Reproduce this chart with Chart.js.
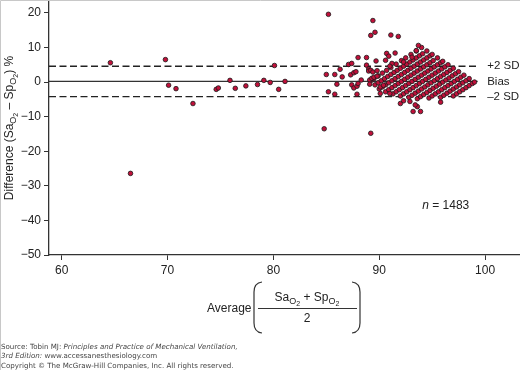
<!DOCTYPE html>
<html>
<head>
<meta charset="utf-8">
<script src="https://cdn.jsdelivr.net/npm/chart.js@4.4.1/dist/chart.umd.min.js"></script>
<style>
  body { margin: 0; background: #fff; }
  #wrap { position: relative; width: 520px; height: 370px; overflow: hidden; }
  #src { position: absolute; left: 1px; top: 342px; font-family: "DejaVu Sans"; font-size: 7.1px; color: #444; line-height: 9px; white-space: nowrap; }
  #src .copy { margin-top: 1px; }
</style>
</head>
<body>
<div id="wrap">
  <canvas id="myChart" width="520" height="370"></canvas>
  <div id="src">Source: Tobin MJ: <i>Principles and Practice of Mechanical Ventilation,</i><br><i>3rd Edition:</i> www.accessanesthesiology.com<div class="copy">Copyright © The McGraw-Hill Companies, Inc. All rights reserved.</div></div>
</div>
<script>
// Bland-Altman points: [average, difference]
var sparsePoints = [
  [64.6, 5.6], [66.5, -26.4], [69.8, 6.5], [70.1, -0.9], [70.8, -1.9], [72.4, -6.2],
  [74.6, -2.1], [74.8, -1.7], [75.9, 0.5], [76.4, -1.8], [77.4, -1.1], [78.5, -0.7],
  [79.1, 0.5], [79.7, -0.1], [80.1, 4.8], [80.5, -2.1], [81.1, 0.2],
  [84.8, -13.5], [85.0, 2.2], [85.2, 19.6], [85.2, -2.8], [85.8, -3.5], [85.8, 2.2],
  [86.0, -0.6], [86.3, 3.7], [86.5, 1.5], [87.1, 5.1], [87.4, 5.4], [87.3, 2.1],
  [87.6, 2.7], [87.8, 3.0], [87.4, -0.8], [87.6, -1.7], [87.9, -1.2], [87.9, -3.5],
  [88.0, -0.4], [88.3, 0.6], [88.0, 7.1], [88.8, 7.1], [88.8, 4.9], [89.0, 3.8],
  [89.0, 3.2], [89.2, 3.4], [89.4, 2.9], [89.8, 3.3], [89.1, 0.6], [89.3, 1.1],
  [89.5, 1.4], [89.8, 1.7], [89.1, -0.6], [89.7, 6.1], [89.2, -14.8], [89.4, 17.8],
  [89.2, 13.5], [89.6, 14.4], [91.1, 13.6], [91.8, 13.2], [90.1, -1.4], [90.4, -0.9],
  [90.1, -3.3], [91.0, -3.3], [90.6, 6.3], [90.7, 8.3], [90.9, 7.5], [91.5, 8.4],
  [91.2, 5.4], [91.0, 4.6], [92.3, 5.8], [92.0, -6.2], [92.3, -5.4], [92.9, -5.6],
  [93.2, -8.5], [93.6, -7.1], [93.9, -8.5], [93.4, -6.6], [95.8, -5.8], [93.7, 10.6],
  [93.5, 9.1], [93.1, 7.2]
];

// the dense diagonal bands on the right, one row per band
var densePoints = [
  [89.2, 0.4], [89.5, 1.0], [89.9, 1.8], [90.3, 2.6], [90.7, 3.4], [91.1, 4.2], [91.6, 5.2], [92.1, 6.2], [92.5, 7.0], [93.0, 8.0], [93.5, 9.0], [94.0, 10.0],
  [89.6, -0.8], [89.9, -0.2], [90.2, 0.4], [90.5, 1.0], [90.8, 1.6], [91.1, 2.2], [91.4, 2.8], [91.7, 3.4], [92.0, 4.0], [92.3, 4.6], [92.6, 5.2], [92.9, 5.8], [93.2, 6.4], [93.5, 7.0], [93.8, 7.6], [94.1, 8.2], [94.5, 9.0],
  [90.0, -2.0], [90.3, -1.4], [90.6, -0.8], [90.9, -0.2], [91.2, 0.4], [91.5, 1.0], [91.8, 1.6], [92.1, 2.2], [92.4, 2.8], [92.7, 3.4], [93.0, 4.0], [93.3, 4.6], [93.6, 5.2], [93.9, 5.8], [94.2, 6.4], [94.5, 7.0], [94.8, 7.6], [95.0, 8.0],
  [90.6, -2.8], [90.9, -2.2], [91.2, -1.6], [91.5, -1.0], [91.8, -0.4], [92.1, 0.2], [92.4, 0.8], [92.7, 1.4], [93.0, 2.0], [93.3, 2.6], [93.6, 3.2], [93.9, 3.8], [94.2, 4.4], [94.5, 5.0], [94.8, 5.6], [95.1, 6.2], [95.5, 7.0],
  [91.3, -3.4], [91.6, -2.8], [91.9, -2.2], [92.2, -1.6], [92.5, -1.0], [92.8, -0.4], [93.1, 0.2], [93.4, 0.8], [93.7, 1.4], [94.0, 2.0], [94.3, 2.6], [94.6, 3.2], [94.9, 3.8], [95.2, 4.4], [95.5, 5.0], [95.8, 5.6], [96.0, 6.0],
  [92.0, -4.0], [92.3, -3.4], [92.6, -2.8], [92.9, -2.2], [93.2, -1.6], [93.5, -1.0], [93.8, -0.4], [94.1, 0.2], [94.4, 0.8], [94.7, 1.4], [95.0, 2.0], [95.3, 2.6], [95.6, 3.2], [95.9, 3.8], [96.2, 4.4], [96.5, 5.0],
  [92.8, -4.4], [93.1, -3.8], [93.4, -3.2], [93.7, -2.6], [94.0, -2.0], [94.3, -1.4], [94.6, -0.8], [94.9, -0.2], [95.2, 0.4], [95.5, 1.0], [95.8, 1.6], [96.1, 2.2], [96.4, 2.8], [96.7, 3.4], [97.0, 4.0],
  [93.6, -4.8], [93.9, -4.2], [94.2, -3.6], [94.5, -3.0], [94.8, -2.4], [95.1, -1.8], [95.4, -1.2], [95.7, -0.6], [96.0, 0.0], [96.3, 0.6], [96.6, 1.2], [96.9, 1.8], [97.2, 2.4], [97.5, 3.0],
  [94.7, -4.6], [95.0, -4.0], [95.3, -3.4], [95.6, -2.8], [95.9, -2.2], [96.2, -1.6], [96.5, -1.0], [96.8, -0.4], [97.1, 0.2], [97.4, 0.8], [97.7, 1.4], [98.0, 2.0],
  [95.8, -4.4], [96.1, -3.8], [96.4, -3.2], [96.7, -2.6], [97.0, -2.0], [97.3, -1.4], [97.6, -0.8], [97.9, -0.2], [98.2, 0.4], [98.5, 1.0],
  [97.0, -4.0], [97.3, -3.4], [97.6, -2.8], [97.9, -2.2], [98.2, -1.6], [98.5, -1.0], [98.8, -0.4], [99.0, 0.0]
];

var biasValue = 0.2;
var upperLimit = 4.6;
var lowerLimit = -4.2;
var lineRange = [58.8, 99.3];
var limitLabels = ["+2 SD", "Bias", "\u20132 SD"];
var sampleSize = 1483;

var FONT = "'Liberation Sans', Arial, sans-serif";

function toXY(arr) {
  return arr.map(function (p) { return { x: p[0], y: p[1] }; });
}
function hLine(v) {
  return [{ x: lineRange[0], y: v }, { x: lineRange[1], y: v }];
}

// draws text with subscripts, centred on x; level 0 normal, 1 sub, 2 sub-sub
function drawRich(c, parts, x, y) {
  var sizes = [12, 9, 7], drop = [0, 3, 5];
  var total = 0;
  parts.forEach(function (p) {
    c.font = sizes[p[1]] + "px " + FONT;
    total += c.measureText(p[0]).width;
  });
  var cx = x - total / 2;
  c.textAlign = "left";
  c.textBaseline = "alphabetic";
  parts.forEach(function (p) {
    c.font = sizes[p[1]] + "px " + FONT;
    c.fillText(p[0], cx, y + drop[p[1]]);
    cx += c.measureText(p[0]).width;
  });
}

var annotations = {
  id: "annotations",
  afterDraw: function (chart) {
    var c = chart.ctx, xs = chart.scales.x, ys = chart.scales.y;
    c.save();
    c.fillStyle = "#222";

    // limit labels at the right end of the lines
    c.font = "11.5px " + FONT;
    c.textAlign = "left";
    c.textBaseline = "middle";
    var lx = xs.getPixelForValue(100.2);
    c.fillText(limitLabels[0], lx, ys.getPixelForValue(upperLimit));
    c.fillText(limitLabels[1], lx, ys.getPixelForValue(biasValue));
    c.fillText(limitLabels[2], lx, ys.getPixelForValue(lowerLimit));

    // n = 1483
    var nx = xs.getPixelForValue(94.06), ny = ys.getPixelForValue(-35.6);
    c.font = "italic 12px " + FONT;
    c.fillText("n", nx, ny);
    var w = c.measureText("n").width;
    c.font = "12px " + FONT;
    c.fillText(" = " + sampleSize, nx + w, ny);

    // y title
    c.save();
    c.translate(13, 128);
    c.rotate(-Math.PI / 2);
    drawRich(c, [["Difference (Sa", 0], ["O", 1], ["2", 2], [" \u2013 Sp", 0], ["O", 1], ["2", 2], [") %", 0]], 0, 0);
    c.restore();

    // x title: Average ( (SaO2 + SpO2) / 2 )
    c.font = "12px " + FONT;
    c.textAlign = "left";
    c.textBaseline = "alphabetic";
    c.fillText("Average", 207, 312);
    drawRich(c, [["Sa", 0], ["O", 1], ["2", 2], [" + Sp", 0], ["O", 1], ["2", 2]], 307, 301);
    c.textAlign = "center";
    c.font = "12px " + FONT;
    c.fillText("2", 307, 322);
    c.strokeStyle = "#333";
    c.lineWidth = 1;
    c.beginPath();
    c.moveTo(258, 308.5); c.lineTo(357, 308.5);
    c.stroke();
    c.lineWidth = 1.2;
    c.beginPath();
    c.moveTo(262, 282); c.quadraticCurveTo(254, 283, 254, 292);
    c.lineTo(254, 323); c.quadraticCurveTo(254, 332, 262, 333);
    c.moveTo(352, 282); c.quadraticCurveTo(360, 283, 360, 292);
    c.lineTo(360, 323); c.quadraticCurveTo(360, 332, 352, 333);
    c.stroke();

    // light frame of the original figure
    c.strokeStyle = "#c8c8c8";
    c.lineWidth = 1;
    c.beginPath();
    c.moveTo(0.5, 370); c.lineTo(0.5, 0.5); c.lineTo(520, 0.5);
    c.stroke();
    c.restore();
  }
};

var ctx = document.getElementById("myChart").getContext("2d");

var myChart = new Chart(ctx, {
  type: "scatter",
  data: {
    datasets: [
      {
        data: toXY(densePoints.concat(sparsePoints)),
        backgroundColor: "#c0103a",
        borderColor: "#1a1a1a",
        borderWidth: 0.8,
        pointRadius: 2.3
      },
      {
        type: "line",
        data: hLine(biasValue),
        borderColor: "#333",
        borderWidth: 1.3,
        pointRadius: 0
      },
      {
        type: "line",
        data: hLine(upperLimit),
        borderColor: "#222",
        borderWidth: 1.4,
        borderDash: [7, 3.5],
        pointRadius: 0
      },
      {
        type: "line",
        data: hLine(lowerLimit),
        borderColor: "#222",
        borderWidth: 1.4,
        borderDash: [7, 3.5],
        pointRadius: 0
      }
    ]
  },
  options: {
    responsive: false,
    animation: false,
    layout: { autoPadding: false, padding: { top: 1, right: 0, bottom: 0, left: 0 } },
    plugins: { legend: { display: false }, tooltip: { enabled: false } },
    scales: {
      x: {
        type: "linear",
        min: 58.8,
        max: 103.3,
        ticks: { stepSize: 10, includeBounds: false, color: "#222", font: { family: FONT, size: 12 }, padding: 3, maxRotation: 0 },
        grid: { drawOnChartArea: false, tickLength: 5, color: "#333" },
        border: { color: "#333", width: 1.3 },
        afterFit: function (s) { s.height = 370 - 255; s.paddingLeft = 0; s.paddingRight = 0; }
      },
      y: {
        min: -50,
        max: 23.45,
        ticks: {
          stepSize: 10, includeBounds: false, color: "#222", font: { family: FONT, size: 12 }, padding: 3,
          callback: function (v) { return String(v).replace("-", "\u2212"); }
        },
        grid: { drawOnChartArea: false, tickLength: 5, color: "#333" },
        border: { color: "#333", width: 1.3 },
        afterFit: function (s) { s.width = 49; s.paddingTop = 0; s.paddingBottom = 0; }
      }
    }
  },
  plugins: [annotations]
});
</script>
</body>
</html>
